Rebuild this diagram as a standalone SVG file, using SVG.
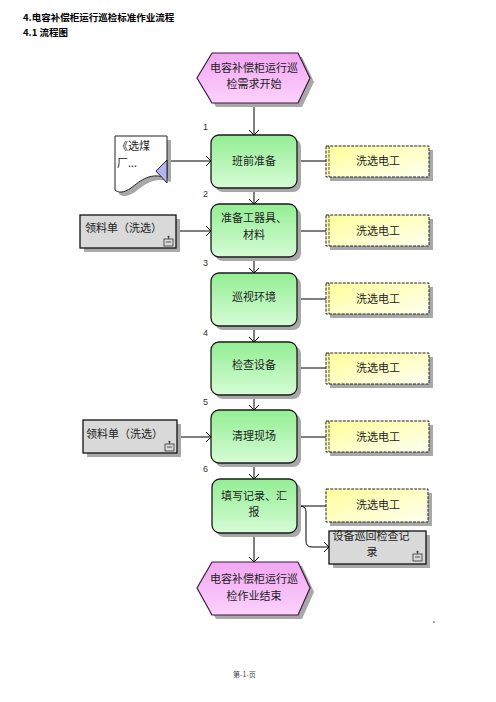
<svg xmlns="http://www.w3.org/2000/svg" width="496" height="702" viewBox="0 0 496 702">
<style>
text{font-family:"Noto Sans CJK SC","Liberation Sans",sans-serif;fill:#222;}
.t{font-size:11px;text-anchor:middle;}
.n{font-size:9px;fill:#333;font-family:"Liberation Sans",sans-serif;}
.h{font-size:9.5px;font-weight:bold;fill:#000;}
.sh{fill:#a8a8a8;}
.hex{fill:url(#gp);stroke:#3a1a3a;stroke-width:1.2;}
.box{fill:url(#gg);stroke:#1a1a1a;stroke-width:1.3;}
.yel{fill:url(#gy);stroke:#222;stroke-width:1;stroke-dasharray:3 1.2;}
.gry{fill:#d9d9d9;stroke:#111;stroke-width:1.3;}
.ln{fill:none;stroke:#000;stroke-width:1;}
.ic{fill:none;stroke:#333;stroke-width:0.8;}
</style>
<defs>
<linearGradient id="gp" x1="0" y1="0" x2="0" y2="1"><stop offset="0" stop-color="#f2a6f2"/><stop offset="1" stop-color="#fcd2fc"/></linearGradient>
<linearGradient id="gg" x1="0" y1="0" x2="0" y2="1"><stop offset="0" stop-color="#93ee93"/><stop offset="1" stop-color="#d6fcd6"/></linearGradient>
<linearGradient id="gy" x1="0" y1="0" x2="1" y2="1"><stop offset="0" stop-color="#ffff9a"/><stop offset="1" stop-color="#fffff0"/></linearGradient>
<marker id="ar" markerUnits="userSpaceOnUse" markerWidth="8" markerHeight="12" refX="6" refY="5" orient="auto"><path d="M1,0 L6,5 L1,10" fill="none" stroke="#000" stroke-width="1"/></marker>
<g id="icon"><rect x="0" y="3" width="9" height="7" class="ic"/><line x1="2" y1="6" x2="7" y2="6" class="ic"/><line x1="4.5" y1="0" x2="4.5" y2="3" class="ic"/><circle cx="4.5" cy="0.8" r="1" fill="#333"/></g>
</defs>
<rect width="496" height="702" fill="#fff"/>

<g id="title">
<text x="23" y="21" class="h">4.电容补偿柜运行巡检标准作业流程</text>
<text x="23" y="36" class="h">4.1 流程图</text>
</g>

<g id="connectors">
<line x1="254" y1="103" x2="254" y2="135" class="ln" marker-end="url(#ar)"/>
<line x1="254" y1="188" x2="254" y2="204" class="ln" marker-end="url(#ar)"/>
<line x1="254" y1="257" x2="254" y2="273" class="ln" marker-end="url(#ar)"/>
<line x1="254" y1="326" x2="254" y2="342" class="ln" marker-end="url(#ar)"/>
<line x1="254" y1="395" x2="254" y2="410" class="ln" marker-end="url(#ar)"/>
<line x1="254" y1="463" x2="254" y2="479" class="ln" marker-end="url(#ar)"/>
<line x1="254" y1="533" x2="254" y2="562" class="ln" marker-end="url(#ar)"/>
<line x1="166" y1="161" x2="211" y2="161" class="ln" marker-end="url(#ar)"/>
<line x1="176" y1="231" x2="211" y2="231" class="ln" marker-end="url(#ar)"/>
<line x1="177" y1="437" x2="211" y2="437" class="ln" marker-end="url(#ar)"/>
<line x1="297" y1="161" x2="326" y2="161" class="ln"/>
<line x1="297" y1="231" x2="326" y2="231" class="ln"/>
<line x1="297" y1="299" x2="326" y2="299" class="ln"/>
<line x1="297" y1="368" x2="326" y2="368" class="ln"/>
<line x1="297" y1="437" x2="326" y2="437" class="ln"/>
<line x1="297" y1="506" x2="326" y2="506" class="ln"/>
<path d="M300,506 Q306,506 306,512 V541 Q306,547 312,547 H329" class="ln" marker-end="url(#ar)"/>
<text x="203" y="130" class="n">1</text>
<text x="203" y="197" class="n">2</text>
<text x="203" y="266" class="n">3</text>
<text x="203" y="336" class="n">4</text>
<text x="203" y="405" class="n">5</text>
<text x="203" y="472" class="n">6</text>
</g>

<g id="start">
<polygon points="201,82 216,57 302,57 314,82 302,107 216,107" class="sh"/>
<polygon points="197,78 212,53 298,53 310,78 298,103 212,103" class="hex"/>
<text x="254" y="72" class="t">电容补偿柜运行巡</text>
<text x="254" y="88" class="t">检需求开始</text>
</g>

<g id="doc">
<path d="M119,140 H171 V182 C155,176 145,184 135,192 C128,197 122,197 119,194 Z" class="sh"/>
<path d="M115,136 H167 V178 C151,172 141,180 131,188 C124,193 118,193 115,190 Z" fill="#fff" stroke="#222" stroke-width="1"/>
<polygon points="156,171 167,160 167,183" fill="#b4b4f0" stroke="#222" stroke-width="1"/>
<text x="117" y="150" style="font-size:11px">《选煤</text>
<text x="117" y="167" style="font-size:11px">厂...</text>
</g>

<g id="step1">
<rect x="215" y="139" width="86" height="53" rx="8" class="sh"/>
<rect x="211" y="135" width="86" height="53" rx="8" class="box"/>
<text x="254" y="165" class="t">班前准备</text>
</g>
<g id="role1">
<rect x="330" y="150" width="103" height="31" class="sh"/>
<rect x="326" y="146" width="103" height="31" class="yel"/>
<line x1="329" y1="146" x2="329" y2="177" stroke="#222" stroke-width="0.8" stroke-dasharray="3 1.2"/>
<text x="378" y="165" class="t">洗选电工</text>
</g>

<g id="mat1">
<rect x="84" y="219" width="96" height="33" class="sh"/>
<rect x="80" y="215" width="96" height="33" class="gry"/>
<text x="85" y="232" style="font-size:11px">领料单（洗选）</text>
<use href="#icon" x="164" y="236"/>
</g>
<g id="step2">
<rect x="215" y="208" width="86" height="53" rx="8" class="sh"/>
<rect x="211" y="204" width="86" height="53" rx="8" class="box"/>
<text x="254" y="222" class="t">准备工器具、</text>
<text x="254" y="239" class="t">材料</text>
</g>
<g id="role2">
<rect x="330" y="219" width="103" height="31" class="sh"/>
<rect x="326" y="215" width="103" height="31" class="yel"/>
<line x1="329" y1="215" x2="329" y2="246" stroke="#222" stroke-width="0.8" stroke-dasharray="3 1.2"/>
<text x="378" y="235" class="t">洗选电工</text>
</g>

<g id="step3">
<rect x="215" y="277" width="86" height="53" rx="8" class="sh"/>
<rect x="211" y="273" width="86" height="53" rx="8" class="box"/>
<text x="254" y="301" class="t">巡视环境</text>
</g>
<g id="role3">
<rect x="330" y="287" width="103" height="31" class="sh"/>
<rect x="326" y="283" width="103" height="31" class="yel"/>
<line x1="329" y1="283" x2="329" y2="314" stroke="#222" stroke-width="0.8" stroke-dasharray="3 1.2"/>
<text x="378" y="303" class="t">洗选电工</text>
</g>

<g id="step4">
<rect x="215" y="346" width="86" height="53" rx="8" class="sh"/>
<rect x="211" y="342" width="86" height="53" rx="8" class="box"/>
<text x="254" y="369" class="t">检查设备</text>
</g>
<g id="role4">
<rect x="330" y="357" width="103" height="31" class="sh"/>
<rect x="326" y="353" width="103" height="31" class="yel"/>
<line x1="329" y1="353" x2="329" y2="384" stroke="#222" stroke-width="0.8" stroke-dasharray="3 1.2"/>
<text x="378" y="372" class="t">洗选电工</text>
</g>

<g id="mat2">
<rect x="87" y="424" width="94" height="33" class="sh"/>
<rect x="83" y="420" width="94" height="33" class="gry"/>
<text x="86" y="438" style="font-size:11px">领料单（洗选）</text>
<use href="#icon" x="165" y="441"/>
</g>
<g id="step5">
<rect x="215" y="414" width="86" height="53" rx="8" class="sh"/>
<rect x="211" y="410" width="86" height="53" rx="8" class="box"/>
<text x="254" y="440" class="t">清理现场</text>
</g>
<g id="role5">
<rect x="330" y="425" width="103" height="31" class="sh"/>
<rect x="326" y="421" width="103" height="31" class="yel"/>
<line x1="329" y1="421" x2="329" y2="452" stroke="#222" stroke-width="0.8" stroke-dasharray="3 1.2"/>
<text x="378" y="441" class="t">洗选电工</text>
</g>

<g id="step6">
<rect x="216" y="483" width="85" height="54" rx="8" class="sh"/>
<rect x="212" y="479" width="85" height="54" rx="8" class="box"/>
<text x="254" y="500" class="t">填写记录、汇</text>
<text x="254" y="516" class="t">报</text>
</g>
<g id="role6">
<rect x="330" y="493" width="102" height="33" class="sh"/>
<rect x="326" y="489" width="102" height="33" class="yel"/>
<text x="378" y="509" class="t">洗选电工</text>
</g>
<g id="record">
<rect x="333" y="535" width="97" height="33" class="sh"/>
<rect x="329" y="531" width="97" height="33" class="gry"/>
<text x="371" y="540" class="t">设备巡回检查记</text>
<text x="372" y="556" class="t">录</text>
<use href="#icon" x="413" y="551"/>
</g>

<g id="end">
<polygon points="201,592 216,566 302,566 314,592 302,619 216,619" class="sh"/>
<polygon points="197,588 212,562 298,562 310,588 298,615 212,615" class="hex"/>
<text x="254" y="583" class="t">电容补偿柜运行巡</text>
<text x="254" y="600" class="t">检作业结束</text>
</g>

<g id="footer">
<circle cx="434" cy="622" r="0.7" fill="#000"/>
<text x="233" y="677" style="font-size:7px;fill:#444">第-1-页</text>
</g>
</svg>
